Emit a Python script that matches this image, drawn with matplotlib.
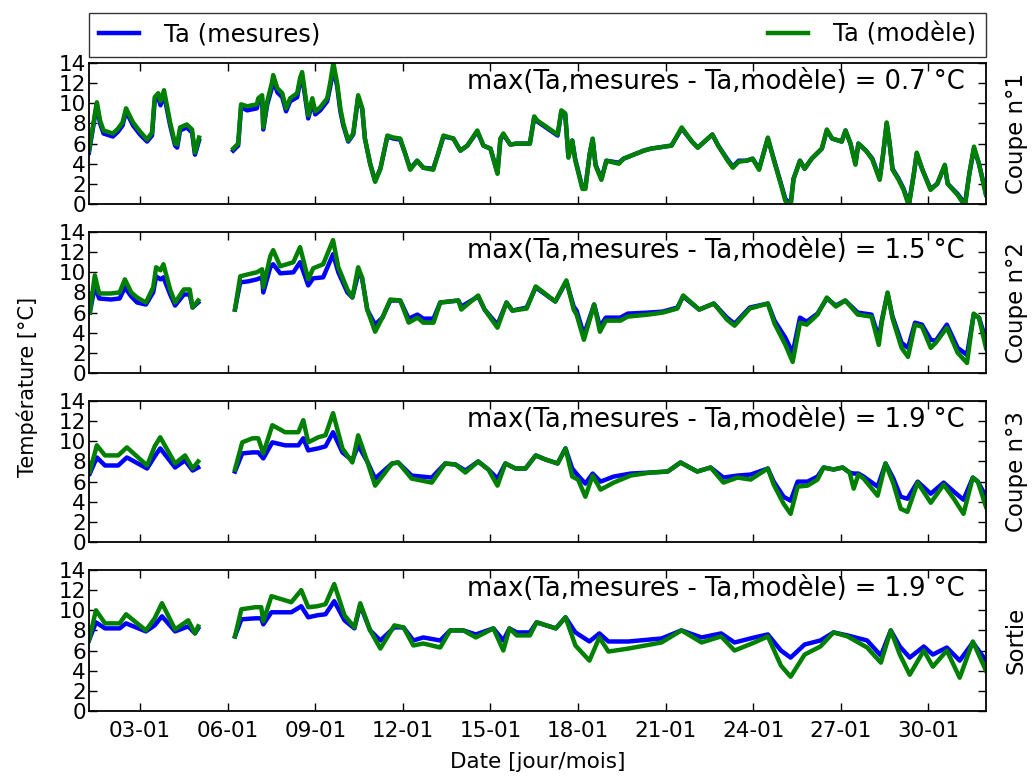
import numpy as np
import matplotlib
matplotlib.use("Agg")
import matplotlib.pyplot as plt
import matplotlib.dates as mdates

nan = np.nan
# Time in "day of January" (1.25 = 01-01 06:00); nan marks the gap in the records
days_1 = [1.25, 1.52, 1.63, 1.75, 2.07, 2.25, 2.4, 2.52, 2.76, 3.0, 3.24, 3.41, 3.5, 3.62, 3.7, 3.82,
          4.03, 4.2, 4.27, 4.37, 4.6, 4.78, 4.88, 5.02, 5.5,
          6.19, 6.36, 6.46, 6.67, 7.0, 7.05, 7.18, 7.22, 7.35, 7.52, 7.56, 7.7, 7.87, 8.0, 8.14, 8.38,
          8.48, 8.55, 8.65, 8.76, 8.9, 9.0, 9.17, 9.41, 9.51, 9.62, 9.75, 9.86, 9.96, 10.13, 10.3,
          10.47, 10.61, 10.7, 10.88, 11.05, 11.23, 11.47, 11.67, 11.91, 12.08, 12.25, 12.49, 12.7,
          13.04, 13.21, 13.39, 13.73, 13.97, 14.21, 14.55, 14.76, 15.0, 15.24, 15.34, 15.44, 15.68,
          15.9, 16.35, 16.5, 16.6, 17.3, 17.43, 17.56, 17.67, 17.8, 17.9, 18.15, 18.25, 18.4, 18.5,
          18.6, 18.8, 18.97, 19.4, 19.56, 20.25, 20.5, 21.2, 21.55, 21.9, 22.1, 22.6, 22.8, 23.1,
          23.3, 23.5, 23.77, 23.98, 24.2, 24.5, 24.7, 24.95, 25.1, 25.28, 25.38, 25.6, 25.76, 26.0,
          26.35, 26.52, 26.7, 27.03, 27.16, 27.33, 27.5, 27.6, 27.86, 28.08, 28.33, 28.45, 28.57,
          28.67, 28.77, 28.98, 29.15, 29.33, 29.5, 29.6, 29.78, 30.07, 30.3, 30.56, 30.66, 31.0,
          31.25, 31.4, 31.56, 31.73, 31.97]
meas_1 = [5.1, 9.9, 8.0, 7.0, 6.7, 7.2, 7.8, 9.2, 7.8, 6.9, 6.2, 6.8, 10.2, 10.6, 9.8, 10.9,
          7.8, 5.8, 5.6, 7.3, 7.6, 7.1, 4.9, 6.3, nan,
          5.3, 5.8, 9.6, 9.3, 9.5, 10.2, 10.5, 7.4, 9.8, 11.6, 12.4, 11.1, 10.6, 9.2, 10.2, 10.6,
          12.1, 12.7, 10.7, 8.5, 10.1, 8.9, 9.3, 10.2, 11.6, 13.4, 11.7, 9.2, 7.8, 6.2, 6.9,
          10.6, 9.4, 6.5, 4.0, 2.3, 3.5, 6.7, 6.5, 6.4, 5.0, 3.5, 4.3, 3.6,
          3.5, 5.0, 6.7, 6.5, 5.3, 5.8, 7.2, 5.8, 5.5, 3.1, 6.4, 6.9, 5.9,
          6.0, 6.0, 8.6, 8.2, 6.8, 9.2, 8.9, 4.7, 6.3, 4.5, 1.6, 1.6, 5.0, 6.4,
          3.9, 2.5, 4.3, 4.1, 4.5, 5.3, 5.5, 5.8, 7.5, 6.2, 5.6, 6.9, 5.8, 4.5,
          3.7, 4.3, 4.3, 4.5, 3.5, 6.5, 4.5, 2.0, 0.5, 0.0, 2.5, 4.3, 3.5, 4.5,
          5.5, 7.3, 6.5, 6.2, 7.3, 6.0, 4.0, 6.0, 5.3, 4.5, 2.5, 5.0, 8.0,
          6.0, 3.5, 2.5, 1.5, 0.0, 3.0, 5.0, 3.5, 1.5, 2.0, 3.8, 2.0, 1.0,
          0.0, 3.0, 5.5, 4.0, 1.0]
model_1 = [5.3, 10.1, 8.3, 7.3, 7.0, 7.5, 8.1, 9.5, 8.1, 7.2, 6.4, 7.1, 10.6, 11.0, 10.2, 11.3,
           8.1, 6.0, 5.9, 7.6, 7.9, 7.4, 5.1, 6.6, nan,
           5.5, 6.0, 9.9, 9.7, 9.9, 10.5, 10.8, 7.6, 10.1, 12.1, 12.8, 11.5, 11.0, 9.5, 10.5, 11.0,
           12.5, 13.1, 11.0, 8.8, 10.5, 9.2, 9.6, 10.5, 12.0, 14.0, 12.0, 9.5, 8.0, 6.3, 7.0,
           10.8, 9.5, 6.5, 4.0, 2.2, 3.5, 6.8, 6.6, 6.5, 5.0, 3.4, 4.3, 3.6,
           3.4, 5.0, 6.8, 6.5, 5.3, 5.8, 7.3, 5.8, 5.5, 3.0, 6.5, 7.0, 5.9,
           6.0, 6.0, 8.7, 8.3, 6.9, 9.3, 9.0, 4.6, 6.3, 4.4, 1.5, 1.5, 5.0, 6.5,
           3.8, 2.4, 4.3, 4.0, 4.5, 5.3, 5.5, 5.8, 7.6, 6.2, 5.6, 6.9, 5.8, 4.4,
           3.6, 4.2, 4.3, 4.5, 3.4, 6.6, 4.4, 1.9, 0.3, -0.2, 2.5, 4.3, 3.5, 4.5,
           5.5, 7.4, 6.5, 6.2, 7.3, 6.0, 3.9, 6.0, 5.3, 4.4, 2.4, 5.0, 8.1,
           6.0, 3.4, 2.4, 1.4, -0.2, 3.0, 5.1, 3.5, 1.4, 2.0, 3.9, 2.0, 0.9,
           -0.2, 3.0, 5.7, 4.0, 0.9]

days_2 = [1.28, 1.45, 1.6, 2.0, 2.3, 2.48, 2.7, 2.9, 3.2, 3.45, 3.55, 3.7, 3.8, 4.03, 4.2, 4.5,
          4.7, 4.8, 4.99, 5.5,
          6.25, 6.43, 6.7, 7.0, 7.18, 7.22, 7.46, 7.56, 7.8, 8.25, 8.48, 8.76, 8.93, 9.27, 9.61,
          9.79, 10.1, 10.27, 10.47, 10.6, 10.78, 11.05, 11.3, 11.57, 11.91, 12.2, 12.5, 12.7, 13.05,
          13.28, 13.9, 14.0, 14.58, 14.8, 15.24, 15.55, 15.75, 16.24, 16.55, 17.22, 17.6, 17.85,
          17.95, 18.2, 18.55, 18.75, 18.95, 19.45, 19.7, 20.4, 20.9, 21.4, 21.6, 22.15, 22.65,
          23.1, 23.36, 23.88, 24.5, 24.73, 25.1, 25.35, 25.6, 25.83, 26.2, 26.52, 26.83, 27.15,
          27.58, 28.05, 28.3, 28.4, 28.6, 28.77, 29.08, 29.3, 29.54, 29.78, 30.08, 30.25, 30.63,
          31.0, 31.32, 31.55, 31.73, 31.97]
meas_2 = [6.0, 8.6, 7.4, 7.3, 7.4, 8.5, 7.6, 7.0, 6.8, 8.0, 9.6, 9.3, 9.5, 7.8, 6.7, 7.8,
          7.8, 6.5, 7.0, nan,
          6.3, 9.0, 9.1, 9.3, 9.5, 8.0, 10.5, 10.8, 9.9, 10.0, 11.0, 8.7, 9.4, 9.5, 11.8,
          10.0, 8.0, 7.5, 9.8, 9.5, 6.3, 4.8, 5.5, 7.2, 7.2, 5.4, 5.8, 5.4, 5.4,
          7.0, 7.2, 6.6, 7.6, 6.3, 4.8, 7.0, 6.2, 6.5, 8.5, 7.1, 9.1, 6.6,
          6.2, 3.8, 6.8, 4.6, 5.5, 5.5, 5.9, 6.0, 6.1, 6.5, 7.6, 6.3, 6.9,
          5.5, 4.9, 6.5, 6.9, 5.2, 3.5, 2.0, 5.5, 5.1, 5.9, 7.4, 6.7, 7.2,
          6.0, 5.8, 3.5, 5.2, 7.9, 5.6, 3.0, 2.5, 5.0, 4.8, 3.3, 3.2, 4.8,
          2.5, 1.8, 5.8, 5.5, 3.3]
model_2 = [6.0, 9.7, 7.9, 7.9, 8.0, 9.3, 8.0, 7.5, 7.0, 8.5, 10.5, 10.2, 10.8, 8.3, 7.0, 8.3,
           8.3, 6.5, 7.2, nan,
           6.3, 9.6, 9.8, 10.0, 10.3, 8.5, 11.6, 12.2, 10.6, 11.0, 12.5, 9.3, 10.4, 10.8, 13.2,
           10.5, 8.3, 7.5, 10.5, 9.5, 6.3, 4.1, 5.5, 7.3, 7.2, 5.0, 5.5, 5.0, 5.0,
           7.0, 7.2, 6.3, 7.7, 6.3, 4.5, 7.0, 6.2, 6.4, 8.6, 7.1, 9.2, 6.3,
           5.8, 3.3, 6.8, 4.1, 5.2, 5.2, 5.6, 5.8, 6.0, 6.4, 7.7, 6.3, 6.9,
           5.3, 4.7, 6.4, 6.9, 4.9, 2.8, 1.1, 5.0, 4.8, 5.8, 7.5, 6.6, 7.2,
           5.8, 5.6, 2.8, 5.0, 8.0, 5.4, 2.5, 1.6, 4.8, 4.6, 2.5, 3.0, 4.5,
           2.0, 1.0, 5.9, 5.5, 2.5]

days_3 = [1.28, 1.52, 1.8, 2.25, 2.55, 3.24, 3.5, 3.69, 4.2, 4.54, 4.8, 4.99, 5.5,
          6.25, 6.5, 6.85, 7.05, 7.22, 7.53, 7.97, 8.42, 8.59, 8.76, 9.1, 9.35, 9.61, 9.93,
          10.27, 10.47, 10.78, 11.05, 11.63, 11.84, 12.3, 12.99, 13.45, 13.8, 14.14, 14.58,
          14.93, 15.24, 15.51, 15.86, 16.2, 16.55, 16.88, 17.3, 17.57, 17.8, 18.0, 18.25, 18.5,
          18.77, 19.22, 19.8, 20.48, 21.07, 21.51, 22.08, 22.54, 22.98, 23.46, 23.91, 24.5, 24.7,
          25.04, 25.28, 25.52, 25.86, 26.2, 26.41, 26.75, 27.06, 27.3, 27.44, 27.6, 27.78, 28.26,
          28.53, 28.8, 29.05, 29.28, 29.63, 30.08, 30.52, 30.87, 31.2, 31.52, 31.69, 31.97]
meas_3 = [6.8, 8.4, 7.6, 7.6, 8.4, 7.3, 8.5, 9.3, 7.4, 8.1, 7.1, 7.4, nan,
          7.0, 8.8, 8.9, 8.9, 8.3, 9.9, 9.6, 9.6, 10.3, 9.1, 9.3, 9.5, 10.9, 8.9,
          8.1, 9.6, 8.0, 6.3, 7.8, 7.9, 6.6, 6.4, 7.8, 7.7, 7.1, 8.0,
          7.2, 6.3, 7.8, 7.3, 7.3, 8.6, 8.2, 7.8, 9.3, 7.3, 6.6, 5.8, 6.8,
          6.0, 6.5, 6.8, 6.9, 7.0, 7.9, 7.0, 7.4, 6.4, 6.6, 6.7, 7.3, 6.0,
          4.5, 4.1, 6.0, 6.0, 6.5, 7.4, 7.2, 7.4, 6.9, 6.8, 6.8, 6.5, 5.5,
          7.8, 6.3, 4.5, 4.3, 6.0, 4.8, 5.9, 5.0, 4.2, 6.4, 6.0, 4.5]
model_3 = [7.0, 9.6, 8.6, 8.6, 9.4, 7.6, 9.5, 10.4, 7.8, 8.6, 7.3, 8.0, nan,
           7.2, 9.9, 10.3, 10.3, 8.8, 11.6, 10.9, 10.9, 12.1, 9.9, 10.4, 10.6, 12.8, 9.3,
           7.9, 10.6, 8.0, 5.6, 7.8, 7.9, 6.3, 5.9, 7.8, 7.7, 6.9, 8.0,
           7.2, 5.6, 7.8, 7.3, 7.3, 8.6, 8.2, 7.8, 9.3, 6.5, 6.2, 4.5, 6.6,
           5.2, 5.9, 6.6, 6.9, 7.0, 7.9, 7.0, 7.4, 5.9, 6.4, 6.2, 7.3, 5.7,
           3.8, 2.8, 5.5, 5.6, 6.2, 7.4, 7.2, 7.4, 6.9, 5.3, 6.7, 6.3, 4.6,
           7.8, 5.8, 3.3, 3.0, 5.9, 3.9, 5.7, 4.3, 2.8, 6.4, 6.0, 3.5]

days_4 = [1.25, 1.49, 1.8, 2.3, 2.52, 3.2, 3.5, 3.75, 4.2, 4.65, 4.88, 4.99, 5.5,
          6.25, 6.47, 6.94, 7.15, 7.22, 7.5, 8.18, 8.52, 8.76, 9.07, 9.35, 9.65, 10.0, 10.34,
          10.54, 10.88, 11.23, 11.71, 12.02, 12.36, 12.7, 13.28, 13.62, 14.07, 14.5, 15.1, 15.44,
          15.65, 15.9, 16.35, 16.58, 17.24, 17.57, 17.91, 18.39, 18.73, 19.04, 19.73, 20.86,
          21.54, 22.23, 22.9, 23.36, 24.04, 24.5, 24.95, 25.28, 25.76, 26.3, 26.75, 27.23, 27.9,
          28.37, 28.71, 29.02, 29.36, 29.84, 30.15, 30.63, 31.07, 31.52, 31.97]
meas_4 = [7.0, 8.8, 8.2, 8.2, 8.7, 7.9, 8.5, 9.4, 7.9, 8.4, 7.7, 8.2, nan,
          7.4, 9.1, 9.2, 9.2, 8.6, 9.8, 9.8, 10.4, 9.3, 9.5, 9.6, 10.9, 9.0, 8.2,
          10.5, 8.0, 7.0, 8.3, 8.3, 7.0, 7.3, 7.0, 8.0, 8.0, 7.6, 8.2, 7.0,
          8.2, 7.8, 7.8, 8.8, 8.2, 9.3, 7.8, 6.9, 7.7, 6.9, 6.9, 7.2,
          8.0, 7.3, 7.7, 6.8, 7.3, 7.6, 6.0, 5.3, 6.6, 7.0, 7.8, 7.5, 7.0,
          5.5, 8.0, 6.4, 5.3, 6.4, 5.6, 6.3, 5.0, 6.8, 5.0]
model_4 = [7.0, 10.0, 8.7, 8.7, 9.6, 8.0, 9.2, 10.7, 8.1, 9.0, 7.7, 8.4, nan,
           7.4, 10.1, 10.3, 10.3, 8.9, 11.4, 10.8, 12.0, 10.3, 10.4, 10.6, 12.6, 9.5, 8.3,
           10.7, 8.0, 6.2, 8.5, 8.3, 6.5, 6.7, 6.3, 8.0, 8.0, 7.3, 8.2, 6.0,
           8.2, 7.5, 7.5, 8.8, 8.2, 9.3, 6.5, 5.0, 7.3, 5.9, 6.2, 6.8,
           8.0, 6.8, 7.4, 6.0, 6.8, 7.4, 4.5, 3.4, 5.6, 6.4, 7.8, 7.4, 6.3,
           4.8, 8.0, 5.6, 3.6, 6.0, 4.4, 6.0, 3.3, 6.9, 4.0]

panel_labels = ["Coupe n°1", "Coupe n°2", "Coupe n°3", "Sortie"]
max_diffs = ["0.7", "1.5", "1.9", "1.9"]
panel_days = [days_1, days_2, days_3, days_4]
series_meas = [meas_1, meas_2, meas_3, meas_4]
series_model = [model_1, model_2, model_3, model_4]

origin = np.datetime64("2014-12-31T00:00")


def to_dates(days):
    minutes = np.round(np.asarray(days) * 1440).astype(int)
    return (origin + minutes.astype("timedelta64[m]")).astype(object)


x_start, x_end = to_dates([1.25, 31.97])

plt.rcParams["font.family"] = ["DejaVu Sans"]
fig = plt.figure(figsize=(10.32, 7.76), dpi=100)
fig.patch.set_facecolor("white")

left, width, height = 0.0862, 0.8692, 0.1817
bottoms = [0.7371, 0.5193, 0.3015, 0.0838]

handles = None
for i in range(4):
    ax = fig.add_axes([left, bottoms[i], width, height])
    t = to_dates(panel_days[i])
    lm, = ax.plot(t, series_meas[i], color="#0000ff", lw=3.2, label="Ta (mesures)")
    lg, = ax.plot(t, series_model[i], color="#008000", lw=3.2, label="Ta (modèle)")
    ax.set_xlim(x_start, x_end)
    ax.set_ylim(0, 14)
    ax.set_yticks(np.arange(0, 15, 2))
    ax.xaxis.set_major_locator(mdates.DayLocator(bymonthday=range(3, 32, 3)))
    ax.xaxis.set_major_formatter(mdates.DateFormatter("%d-%m"))
    ax.tick_params(direction="in", top=True, right=True, length=6, width=1,
                   labelsize=15.5, pad=2)
    ax.tick_params(axis="x", pad=7)
    for s in ax.spines.values():
        s.set_linewidth(1.3)
    if i < 3:
        ax.set_xticklabels([])
    ax.text(0.976, 0.96, "max(Ta,mesures - Ta,modèle) = %s °C" % max_diffs[i],
            transform=ax.transAxes, ha="right", va="top", fontsize=18.5)
    ax.text(1.021, 0.5, panel_labels[i], transform=ax.transAxes, rotation=90,
            ha="left", va="center", fontsize=16.5)
    if handles is None:
        handles = [lm, lg]

leg = fig.legend(handles, [h.get_label() for h in handles], loc="lower left",
                 bbox_to_anchor=(left, 0.9265, width, 0.0593), mode="expand", ncol=2,
                 fontsize=17.5, frameon=True, fancybox=False, edgecolor="black",
                 borderaxespad=0, handlelength=1.65, handletextpad=1.0, borderpad=0.42)
leg.get_frame().set_linewidth(1.0)

fig.text(0.026, 0.501, "Température [°C]", rotation=90, ha="center", va="center", fontsize=15)
fig.text(0.521, 0.018, "Date [jour/mois]", ha="center", va="center", fontsize=15.5)

fig.savefig("out.png", dpi=100, facecolor="white")
